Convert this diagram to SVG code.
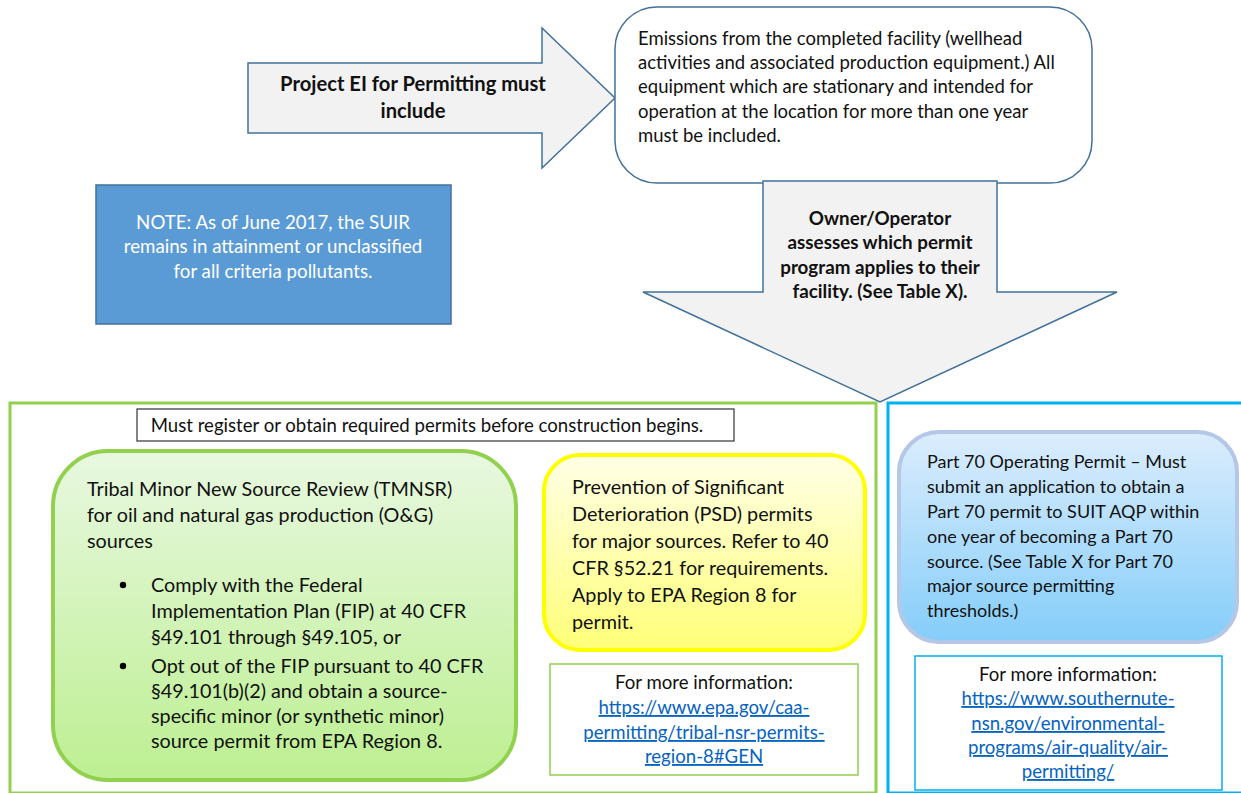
<svg xmlns="http://www.w3.org/2000/svg" width="1241" height="793" viewBox="0 0 1241 793">
  <style>
    text { font-family: Lato, "Open Sans", "Liberation Sans", sans-serif; fill: #111; }
    .body { font-size: 19.8px; }
    .em { font-size: 18.5px; }
    .p70 { font-size: 18px; }
    .bold { font-size: 18.8px; font-weight: bold; }
    .big { font-size: 20.2px; font-weight: bold; }
    .note { font-size: 18.7px; fill: #ffffff; }
    .small { font-size: 18.6px; }
    .link { fill: #0563c1; text-decoration: underline; }
    .arrow { fill: #f2f2f2; stroke: #41719c; stroke-width: 1.5; }
    .mid { text-anchor: middle; }
  </style>
  <defs>
    <linearGradient id="gGreen" x1="0" y1="0" x2="0" y2="1">
      <stop offset="0" stop-color="#e8f8e0"/>
      <stop offset="1" stop-color="#bdef92"/>
    </linearGradient>
    <linearGradient id="gYellow" x1="0" y1="0" x2="0" y2="1">
      <stop offset="0" stop-color="#ffffe6"/>
      <stop offset="1" stop-color="#ffff78"/>
    </linearGradient>
    <linearGradient id="gBlue" x1="0" y1="0" x2="0" y2="1">
      <stop offset="0" stop-color="#dcedfd"/>
      <stop offset="1" stop-color="#84cdf9"/>
    </linearGradient>
  </defs>

  <rect width="1241" height="793" fill="#ffffff"/>

  <!-- outer frames for the two permitting routes -->
  <g id="frame-minor">
    <rect x="10" y="403" width="866" height="390" fill="none" stroke="#92d050" stroke-width="3"/>
  </g>
  <g id="frame-part70">
    <rect x="888" y="403" width="360" height="390" fill="none" stroke="#00b0f0" stroke-width="3"/>
  </g>

  <!-- arrows joining the steps -->
  <g id="connectors">
    <g id="arrow-project">
      <polygon class="arrow" points="248,63 542,63 542,28 615,98 542,168 542,133 248,133"/>
      <text class="big mid" x="413" y="91">Project EI for Permitting must</text>
      <text class="big mid" x="413" y="118">include</text>
    </g>
  </g>

  <g id="emissions">
    <rect x="615" y="7" width="477" height="176" rx="42" ry="42" fill="#ffffff" stroke="#41719c" stroke-width="1.5"/>
    <text class="em" x="638" y="45">Emissions from the completed facility (wellhead</text>
    <text class="em" x="638" y="69">activities and associated production equipment.) All</text>
    <text class="em" x="638" y="93">equipment which are stationary and intended for</text>
    <text class="em" x="638" y="118">operation at the location for more than one year</text>
    <text class="em" x="638" y="142">must be included.</text>
  </g>

  <g id="arrow-assess">
    <polygon class="arrow" points="763,181 997,181 997,292 1117,292 880,402 643,292 763,292"/>
    <text class="bold mid" x="880" y="225">Owner/Operator</text>
    <text class="bold mid" x="880" y="249">assesses which permit</text>
    <text class="bold mid" x="880" y="274">program applies to their</text>
    <text class="bold mid" x="880" y="298">facility. (See Table X).</text>
  </g>

  <g id="note">
    <rect x="96" y="185" width="355" height="139" fill="#5b9bd5" stroke="#41719c" stroke-width="1.5"/>
    <text class="note mid" x="273" y="229">NOTE: As of June 2017, the SUIR</text>
    <text class="note mid" x="273" y="253">remains in attainment or unclassified</text>
    <text class="note mid" x="273" y="278">for all criteria pollutants.</text>
  </g>

  <g id="register">
    <rect x="137" y="409" width="597" height="32" fill="#ffffff" stroke="#333" stroke-width="1.2"/>
    <text class="small mid" x="427" y="432">Must register or obtain required permits before construction begins.</text>
  </g>

  <g id="tmnsr">
    <rect x="53" y="451" width="463" height="329" rx="55" ry="55" fill="url(#gGreen)" stroke="#92d050" stroke-width="4"/>
    <text class="body" x="87" y="496">Tribal Minor New Source Review (TMNSR)</text>
    <text class="body" x="87" y="522">for oil and natural gas production (O&amp;G)</text>
    <text class="body" x="87" y="548">sources</text>
    <circle cx="123" cy="585" r="3.2"/>
    <text class="body" x="151" y="592">Comply with the Federal</text>
    <text class="body" x="151" y="618">Implementation Plan (FIP) at 40 CFR</text>
    <text class="body" x="151" y="644">§49.101 through §49.105, or</text>
    <circle cx="123" cy="666" r="3.2"/>
    <text class="body" x="151" y="673">Opt out of the FIP pursuant to 40 CFR</text>
    <text class="body" x="151" y="698">§49.101(b)(2) and obtain a source-</text>
    <text class="body" x="151" y="723">specific minor (or synthetic minor)</text>
    <text class="body" x="151" y="748">source permit from EPA Region 8.</text>
  </g>

  <g id="psd">
    <rect x="544" y="455" width="321" height="195" rx="36" ry="36" fill="url(#gYellow)" stroke="#ffff00" stroke-width="4"/>
    <text class="body" x="572" y="494">Prevention of Significant</text>
    <text class="body" x="572" y="521">Deterioration (PSD) permits</text>
    <text class="body" x="572" y="548">for major sources. Refer to 40</text>
    <text class="body" x="572" y="575">CFR §52.21 for requirements.</text>
    <text class="body" x="572" y="602">Apply to EPA Region 8 for</text>
    <text class="body" x="572" y="629">permit.</text>
  </g>

  <g id="psd-info">
    <rect x="550" y="664" width="308" height="111" fill="#ffffff" stroke="#92d050" stroke-width="1.5"/>
    <text class="small mid" x="704" y="689">For more information:</text>
    <text class="small mid link" x="704" y="714">https://www.epa.gov/caa-</text>
    <text class="small mid link" x="704" y="739">permitting/tribal-nsr-permits-</text>
    <text class="small mid link" x="704" y="763">region-8#GEN</text>
  </g>

  <g id="part70">
    <rect x="899" y="432" width="338" height="210" rx="40" ry="40" fill="url(#gBlue)" stroke="#b4c7e7" stroke-width="4"/>
    <text class="p70" x="927" y="468">Part 70 Operating Permit – Must</text>
    <text class="p70" x="927" y="493">submit an application to obtain a</text>
    <text class="p70" x="927" y="518">Part 70 permit to SUIT AQP within</text>
    <text class="p70" x="927" y="543">one year of becoming a Part 70</text>
    <text class="p70" x="927" y="568">source. (See Table X for Part 70</text>
    <text class="p70" x="927" y="592">major source permitting</text>
    <text class="p70" x="927" y="617">thresholds.)</text>
  </g>

  <g id="part70-info">
    <rect x="915" y="656" width="307" height="134" fill="#ffffff" stroke="#00b0f0" stroke-width="1.5"/>
    <text class="small mid" x="1068" y="681">For more information:</text>
    <text class="small mid link" x="1068" y="705">https://www.southernute-</text>
    <text class="small mid link" x="1068" y="730">nsn.gov/environmental-</text>
    <text class="small mid link" x="1068" y="754">programs/air-quality/air-</text>
    <text class="small mid link" x="1068" y="778">permitting/</text>
  </g>
</svg>
